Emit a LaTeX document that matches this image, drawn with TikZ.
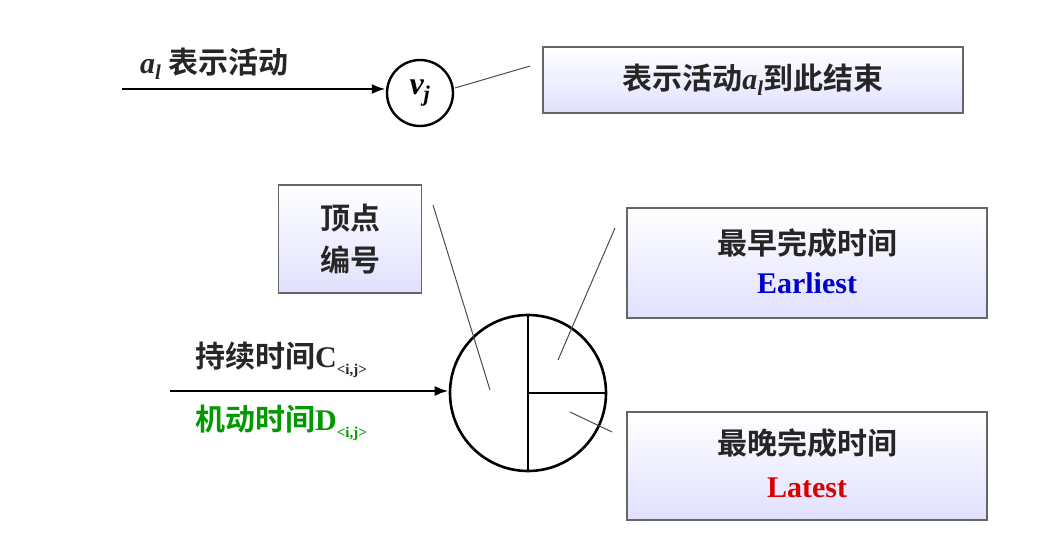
\documentclass[tikz,border=0pt]{standalone}
\usepackage{fontspec}
\usetikzlibrary{arrows.meta}
\setmainfont{Liberation Serif}
\newfontfamily\cjk{Noto Sans CJK SC}[BoldFont={Noto Sans CJK SC Bold}]
\newfontfamily\latbf{Liberation Serif Bold}
\newfontfamily\latbi{Liberation Serif Bold Italic}
\newcommand{\lat}[1]{{\latbf #1}}
\newcommand{\lit}[1]{{\latbi #1}}
\begin{document}
\begin{tikzpicture}[x=1pt,y=-1pt,
  box/.style={draw=black!60,line width=1.2pt,top color=white,bottom color=blue!12,inner sep=0pt},
  lbl/.style={font=\cjk\bfseries\fontsize{30}{34}\selectfont,inner sep=0pt,text=black!85},
  thin/.style={draw=black!70,line width=1pt},
  arr/.style={-{Latex[length=14pt,width=10pt]},line width=2.6pt}]
\useasboundingbox (0,0) rectangle (1055,548);
% top
\coordinate (s1) at (122,89);
\node[circle,draw,line width=2.4pt,minimum size=66pt,inner sep=0pt] (vj) at (420,93) {\fontsize{32}{32}\selectfont\lit{v}\textsubscript{\lit{j}}};
\draw[arr] (s1) -- (s1 -| vj.west);
\node[lbl,anchor=west] (al) at (140,64) {\lit{a}\textsubscript{\lit{l}} 表示活动};
\node[box,minimum width=420pt,minimum height=66pt] (b1) at (753,80) {};
\node[lbl] at (b1) {表示活动\lit{a}\textsubscript{\lit{l}}到此结束};
\coordinate (p1) at (530,66);
\draw[thin] (455,88) -- (p1);
% vertex box
\node[box,minimum width=143pt,minimum height=108pt,align=center,font=\cjk\bfseries\fontsize{30}{42}\selectfont,text=black!85] (vn) at (350,239) {顶点\\编号};
% big circle
\node[circle,draw,line width=2.6pt,minimum size=156pt,inner sep=0pt] (bc) at (528,393) {};
\draw[line width=2.6pt] (bc.north) -- (bc.south);
\draw[line width=2.6pt] (bc.center) -- (bc.east);
% boxes right
\node[box,minimum width=360pt,minimum height=110pt] (e) at (807,263) {};
\node[lbl] at (807,243) {最早完成时间};
\node[font=\latbf\fontsize{30}{30}\selectfont,text=blue!80!black,inner sep=0pt] at (807,283) {Earliest};
\node[box,minimum width=360pt,minimum height=108pt] (l) at (807,466) {};
\node[lbl] at (807,443) {最晚完成时间};
\node[font=\latbf\fontsize{30}{30}\selectfont,text=red!85!black,inner sep=0pt] at (807,488) {Latest};
% pointer lines
\coordinate (q1) at (490,390);
\coordinate (q2) at (558,360);
\coordinate (q3) at (570,412);
\draw[thin] (433,205) -- (q1);
\draw[thin] (615,228) -- (q2);
\draw[thin] (612,432) -- (q3);
% bottom arrow
\coordinate (s2) at (170,391);
\draw[arr] (s2) -- (s2 -| bc.west);
\node[lbl,anchor=west] at (195,360) {持续时间\lat{C}\raisebox{-7pt}{\fontsize{15}{15}\selectfont\lat{<i,j>}}};
\node[lbl,anchor=west,text=green!60!black] at (195,423) {机动时间\lat{D}\raisebox{-7pt}{\fontsize{15}{15}\selectfont\lat{<i,j>}}};
\end{tikzpicture}
\end{document}
